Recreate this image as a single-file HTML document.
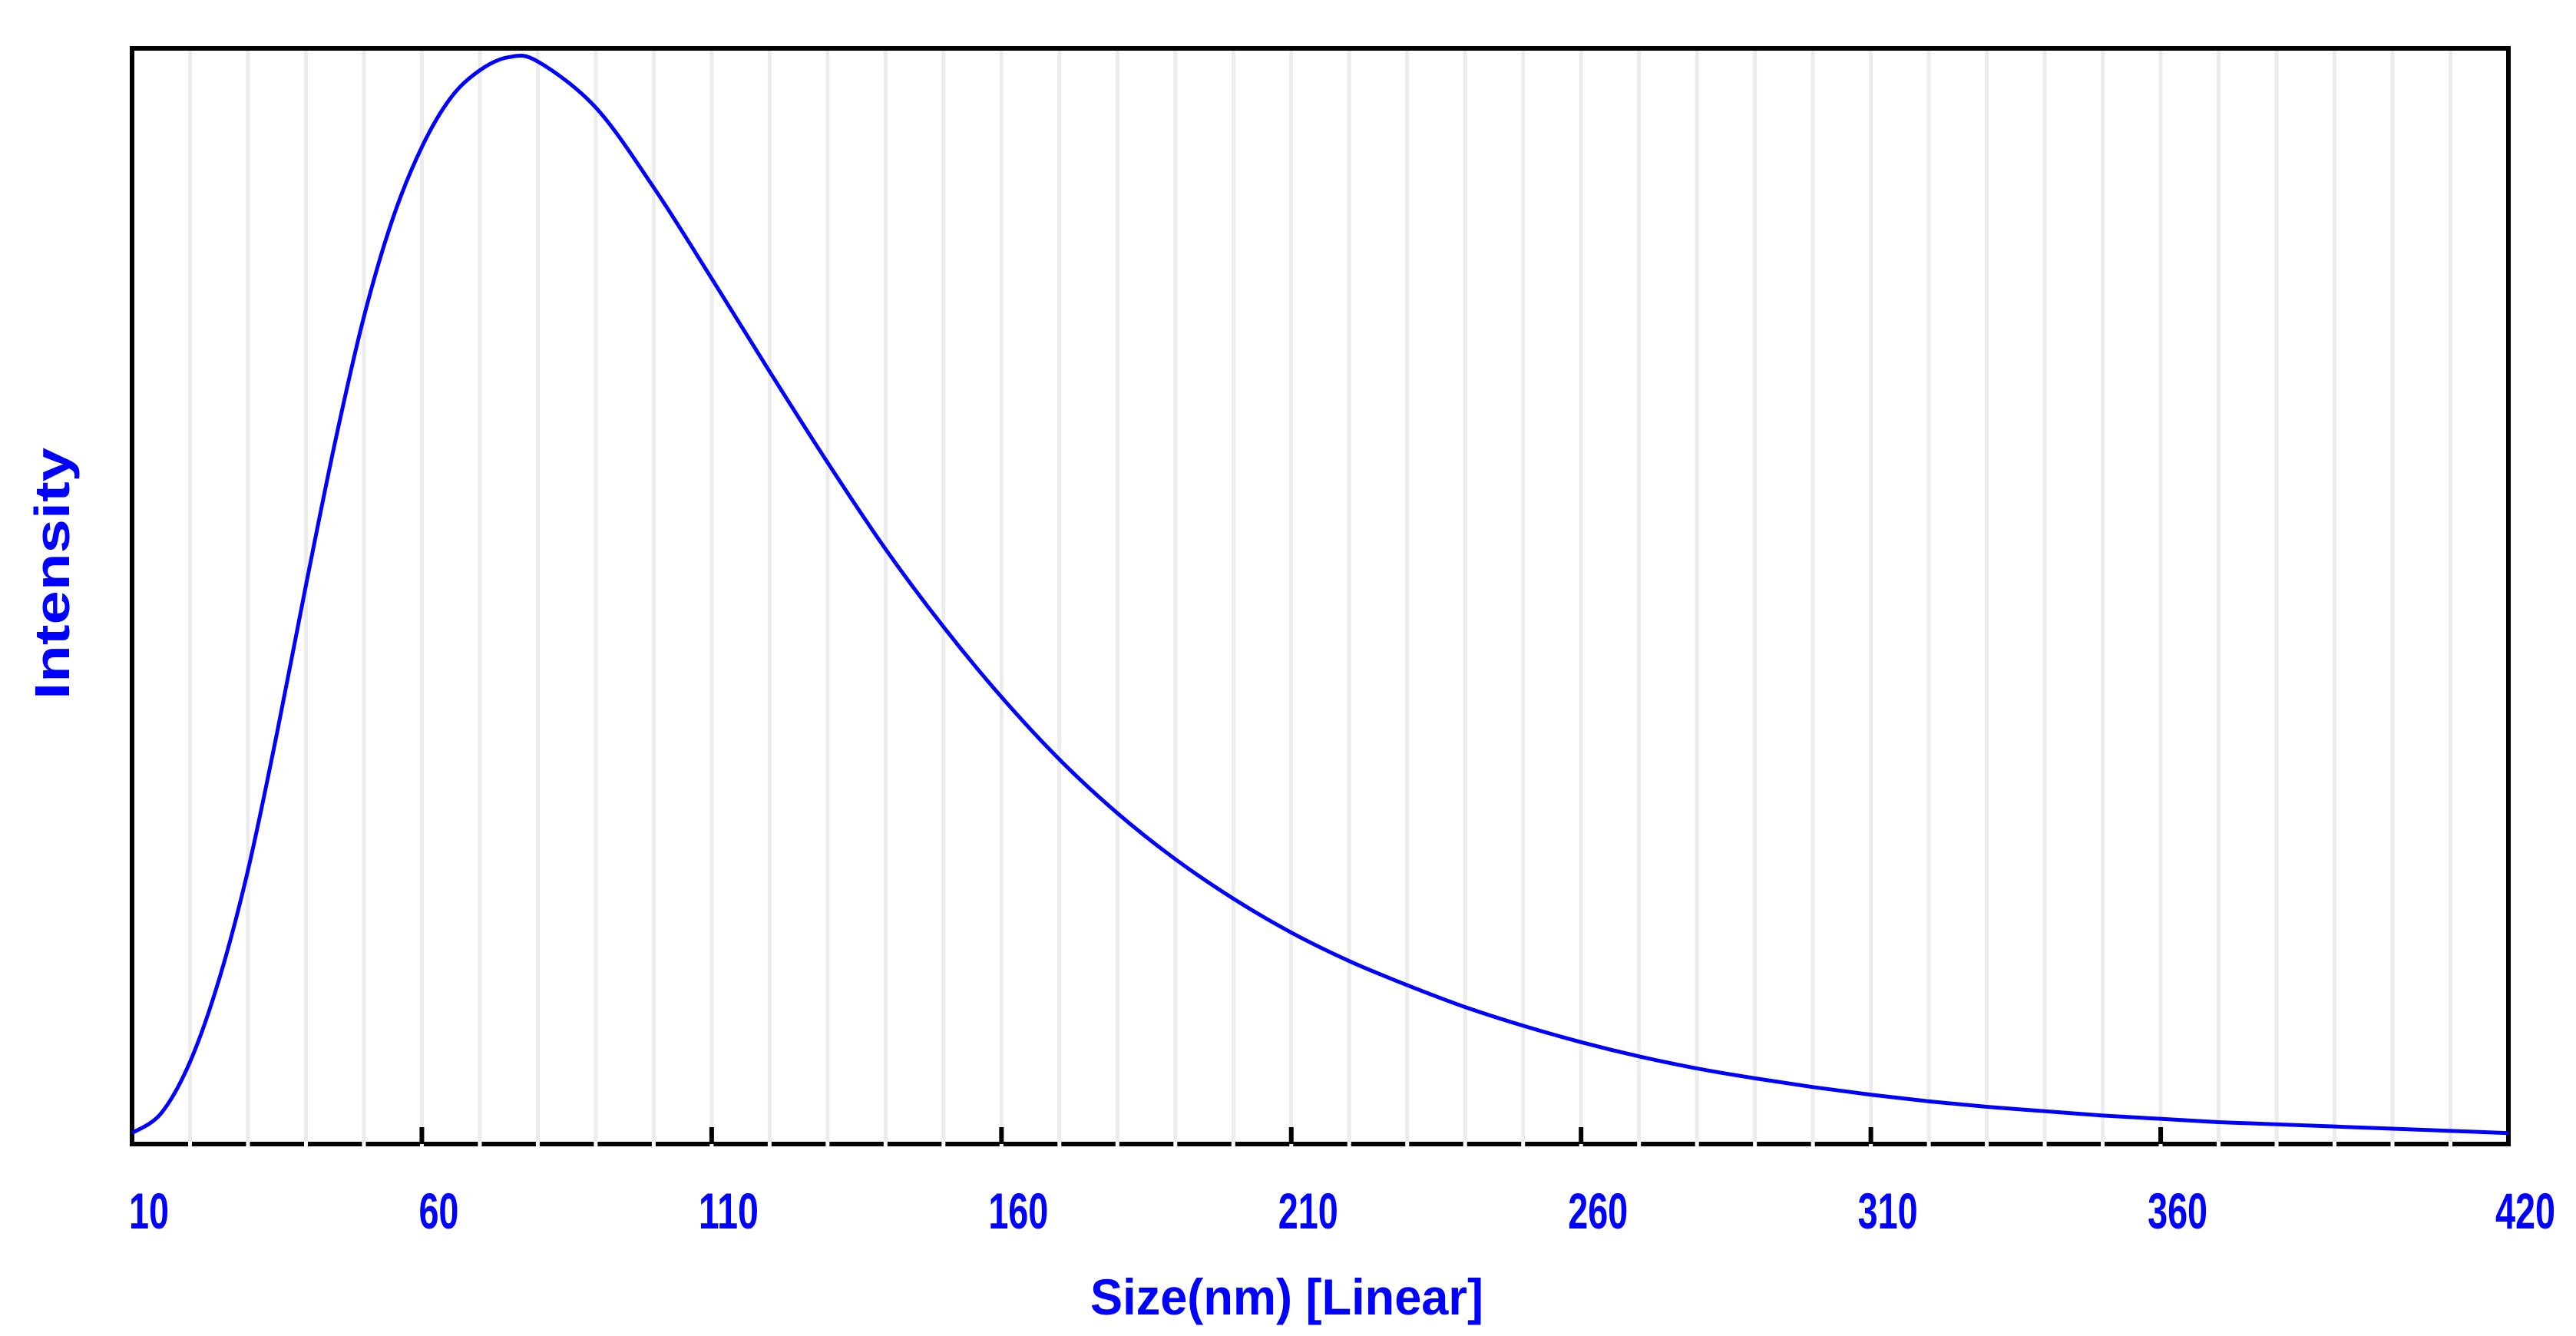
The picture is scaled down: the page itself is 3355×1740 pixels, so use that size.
<!DOCTYPE html>
<html><head><meta charset="utf-8"><style>
html,body{margin:0;padding:0;background:#fff}
svg{display:block}
</style></head><body>
<svg id="chart" width="3355" height="1740" viewBox="0 0 3355 1740" xmlns="http://www.w3.org/2000/svg">
<g id="grid"></g>
<g id="axes"></g>
<path id="curve" fill="none" stroke="#0000ff" stroke-width="5" stroke-linejoin="round"/>
<g id="ticks"></g>
<text x="1676" y="1712" text-anchor="middle" font-family="Liberation Sans, sans-serif" font-size="66" font-weight="bold" fill="#0000ff" textLength="512" lengthAdjust="spacingAndGlyphs">Size(nm)  [Linear]</text>
<text transform="translate(90,747) rotate(-90)" text-anchor="middle" font-family="Liberation Sans, sans-serif" font-size="64" font-weight="bold" fill="#0000ff" textLength="328" lengthAdjust="spacingAndGlyphs">Intensity</text>
</svg>
<script>
const sizes = [10,15,20,25,30,35,40,45,50,55,60,65,70,75,80,90,100,110,120,130,140,150,160,170,180,190,200,210,220,230,240,250,260,270,280,290,300,310,320,330,340,350,360,370,380,390,400,410,420];
const intensity = [1.0,2.8,7.5,15.0,25.0,37.5,51.0,64.0,75.5,84.5,91.0,95.5,98.0,99.2,98.8,94.6,87.3,79.0,70.5,62.2,54.3,47.2,40.8,35.1,30.2,26.0,22.4,19.3,16.7,14.5,12.5,10.8,9.3,8.0,6.9,6.0,5.2,4.5,3.9,3.4,3.0,2.6,2.3,2.0,1.8,1.6,1.4,1.2,1.0];
const tickLabels = [10,60,110,160,210,260,310,360,420];
const xMin = 10, xMax = 420, yMin = 0, yMax = 100;
const L = 172, R = 3267, T = 63, B = 1490;
const NS = 'http://www.w3.org/2000/svg';
function xs(v){ return L + (v - xMin) / (xMax - xMin) * (R - L); }
function ys(v){ return B - (v - yMin) / (yMax - yMin) * (B - T); }
function mk(tag, attrs, parent){ const e = document.createElementNS(NS, tag); for (const k in attrs) e.setAttribute(k, attrs[k]); parent.appendChild(e); return e; }
const grid = document.getElementById('grid');
const axes = document.getElementById('axes');
for (let v = 20; v < 420; v += 10) {
  const g = mk('line', {x1: xs(v), x2: xs(v), y1: T, y2: B - 3, stroke: '#ececec', 'stroke-width': 5}, grid);
  
  
}
const frame = mk('rect', {x: L, y: T, width: R - L, height: B - T, fill: 'none', stroke: '#000', 'stroke-width': 6}, axes);


for (let v = 20; v < 420; v += 10) {
  const gap = mk('rect', {x: xs(v) - 2.5, y: B - 3, width: 5, height: 6, fill: '#fff'}, axes);
  
  
}
const ticksG = document.getElementById('ticks');
tickLabels.forEach(function(v){
  if (v !== 10 && v !== 420) {
    const t = mk('line', {x1: xs(v), x2: xs(v), y1: B - 22, y2: B, stroke: '#000', 'stroke-width': 6}, axes);
    
    
  }
  const s = String(v);
  const tx = mk('text', {x: xs(v) + 22, y: 1600, 'text-anchor': 'middle', 'font-family': 'Liberation Sans, sans-serif', 'font-size': 66, 'font-weight': 'bold', fill: '#0000ff', textLength: s.length * 26, lengthAdjust: 'spacingAndGlyphs'}, ticksG);
  tx.textContent = s;
  
  
});
const pts = sizes.map(function(s, i){ return [xs(s), ys(intensity[i])]; });
let d = 'M' + pts[0][0] + ',' + pts[0][1];
for (let i = 0; i < pts.length - 1; i++) {
  const p0 = pts[Math.max(0, i - 1)], p1 = pts[i], p2 = pts[i + 1], p3 = pts[Math.min(pts.length - 1, i + 2)];
  const c1x = p1[0] + (p2[0] - p0[0]) / 6, c1y = p1[1] + (p2[1] - p0[1]) / 6;
  const c2x = p2[0] - (p3[0] - p1[0]) / 6, c2y = p2[1] - (p3[1] - p1[1]) / 6;
  d += ' C' + c1x + ',' + c1y + ' ' + c2x + ',' + c2y + ' ' + p2[0] + ',' + p2[1];
}
document.getElementById('curve').setAttribute('d', d);
</script>
</body></html>
